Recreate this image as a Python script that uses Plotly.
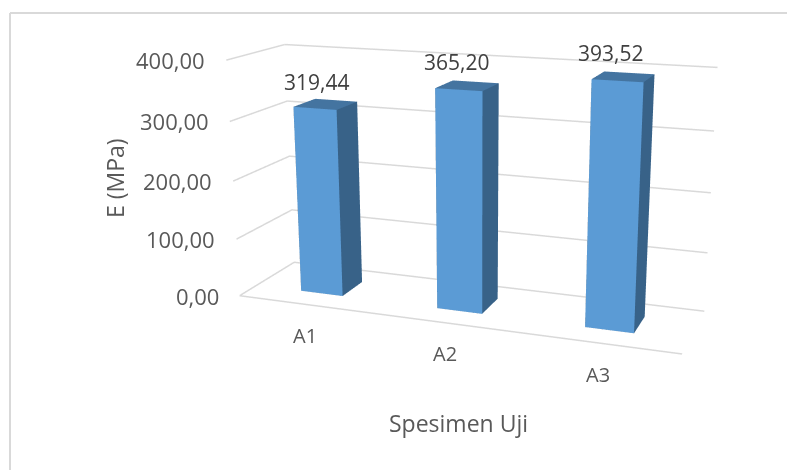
import plotly.graph_objects as go

categories = ["A1", "A2", "A3"]
values = [319.44, 365.20, 393.52]
z_ticks = [0, 100, 200, 300, 400]
x_title = "Spesimen Uji"
y_title = "E (MPa)"

def comma(v):
    return f"{v:.2f}".replace(".", ",")

# The plot area is larger than the window so that the camera's focal length matches
PAGE_W, PAGE_H, TOP = 954, 999, -286
def px(x): return x / PAGE_W
def py(y): return 1 - (y - TOP) / PAGE_H

FONT = "Open Sans"
GRID = "#d9d9d9"
FRONT, SIDE, TOPC = "#5b9bd5", "#386288", "#4474a0"
HALF_W, Y0, Y1 = 0.1566, 0.2995, 0.6986

fig = go.Figure()

# walls & floor gridlines
n = len(categories)
for t in z_ticks:
    fig.add_trace(go.Scatter3d(x=[0, 0, n], y=[0, 1, 1], z=[t, t, t], mode="lines",
                               line=dict(color=GRID, width=3), hoverinfo="skip", showlegend=False))
fig.add_trace(go.Scatter3d(x=[0, n], y=[0, 0], z=[0, 0], mode="lines",
                           line=dict(color=GRID, width=3), hoverinfo="skip", showlegend=False))

# bars
for i, v in enumerate(values):
    x0, x1 = i + .5 - HALF_W, i + .5 + HALF_W
    xs = [x0, x1, x1, x0, x0, x1, x1, x0]
    ys = [Y0, Y0, Y1, Y1, Y0, Y0, Y1, Y1]
    zs = [0, 0, 0, 0, v, v, v, v]
    tri = [(0, 1, 5), (0, 5, 4), (1, 2, 6), (1, 6, 5), (4, 5, 6), (4, 6, 7),
           (3, 2, 6), (3, 6, 7), (0, 3, 7), (0, 7, 4), (0, 1, 2), (0, 2, 3)]
    cols = [FRONT, FRONT, SIDE, SIDE, TOPC, TOPC, SIDE, SIDE, SIDE, SIDE, SIDE, SIDE]
    fig.add_trace(go.Mesh3d(x=xs, y=ys, z=zs, i=[t[0] for t in tri], j=[t[1] for t in tri],
                            k=[t[2] for t in tri], facecolor=cols, flatshading=True,
                            lighting=dict(ambient=1, diffuse=0, specular=0, roughness=1, fresnel=0),
                            hoverinfo="skip", showlegend=False))

ann3d = []
for t in z_ticks:
    ann3d.append(dict(x=0, y=0, z=t, text=comma(t), showarrow=False, xanchor="right", xshift=-19, yshift=0,
                      font=dict(family=FONT, size=22, color="#595959")))
cat_shift = [-1, -2, -2]
val_xshift = [-9, -11, -13]
val_yshift = [22, 24, 24]
for i, (c, v) in enumerate(zip(categories, values)):
    ann3d.append(dict(x=i + .5, y=0, z=0, text=c, showarrow=False, xshift=cat_shift[i], yshift=-31,
                      font=dict(family=FONT, size=20, color="#595959")))
    ann3d.append(dict(x=i + .5, y=(Y0 + Y1) / 2, z=v, text=comma(v), showarrow=False,
                      xshift=val_xshift[i], yshift=val_yshift[i],
                      font=dict(family=FONT, size=21, color="#404040")))

hidden = dict(visible=False, showspikes=False)
fig.update_layout(
    width=PAGE_W, height=PAGE_H, autosize=False,
    margin=dict(l=0, r=0, t=0, b=0, pad=0),
    paper_bgcolor="white", showlegend=False,
    scene=dict(
        domain=dict(x=[0, 1], y=[0, 1]),
        xaxis=dict(range=[0, n], **hidden),
        yaxis=dict(range=[0, 1], **hidden),
        zaxis=dict(range=[0, 400], **hidden),
        aspectmode="manual", aspectratio=dict(x=1, y=.2569, z=.5317),
        camera=dict(eye=dict(x=.8751, y=-2.353, z=.6519), center=dict(x=.0391, y=-.0482, z=-.0429),
                    up=dict(x=0, y=0, z=1), projection=dict(type="perspective")),
        annotations=ann3d,
    ),
    shapes=[
        dict(type="line", xref="paper", yref="paper", x0=px(10), x1=px(10), y0=py(13), y1=py(480),
             line=dict(color=GRID, width=2)),
        dict(type="line", xref="paper", yref="paper", x0=px(10), x1=px(800), y0=py(13), y1=py(13),
             line=dict(color=GRID, width=2)),
    ],
    annotations=[
        dict(xref="paper", yref="paper", x=px(458), y=py(423), text=x_title, showarrow=False,
             xanchor="center", yanchor="middle",
             font=dict(family=FONT, size=23, color="#595959")),
        dict(xref="paper", yref="paper", x=px(115), y=py(178), text=y_title, showarrow=False, textangle=-90,
             xanchor="center", yanchor="middle",
             font=dict(family=FONT, size=23, color="#595959")),
    ],
)
post = f"""
document.documentElement.style.overflow='hidden';
document.body.style.overflow='hidden';
document.body.style.margin='0';
var g=document.querySelector('.plotly-graph-div');
g.style.position='absolute'; g.style.left='0px'; g.style.top='{TOP}px';
"""
fig.write_html("out.html", post_script=post)
